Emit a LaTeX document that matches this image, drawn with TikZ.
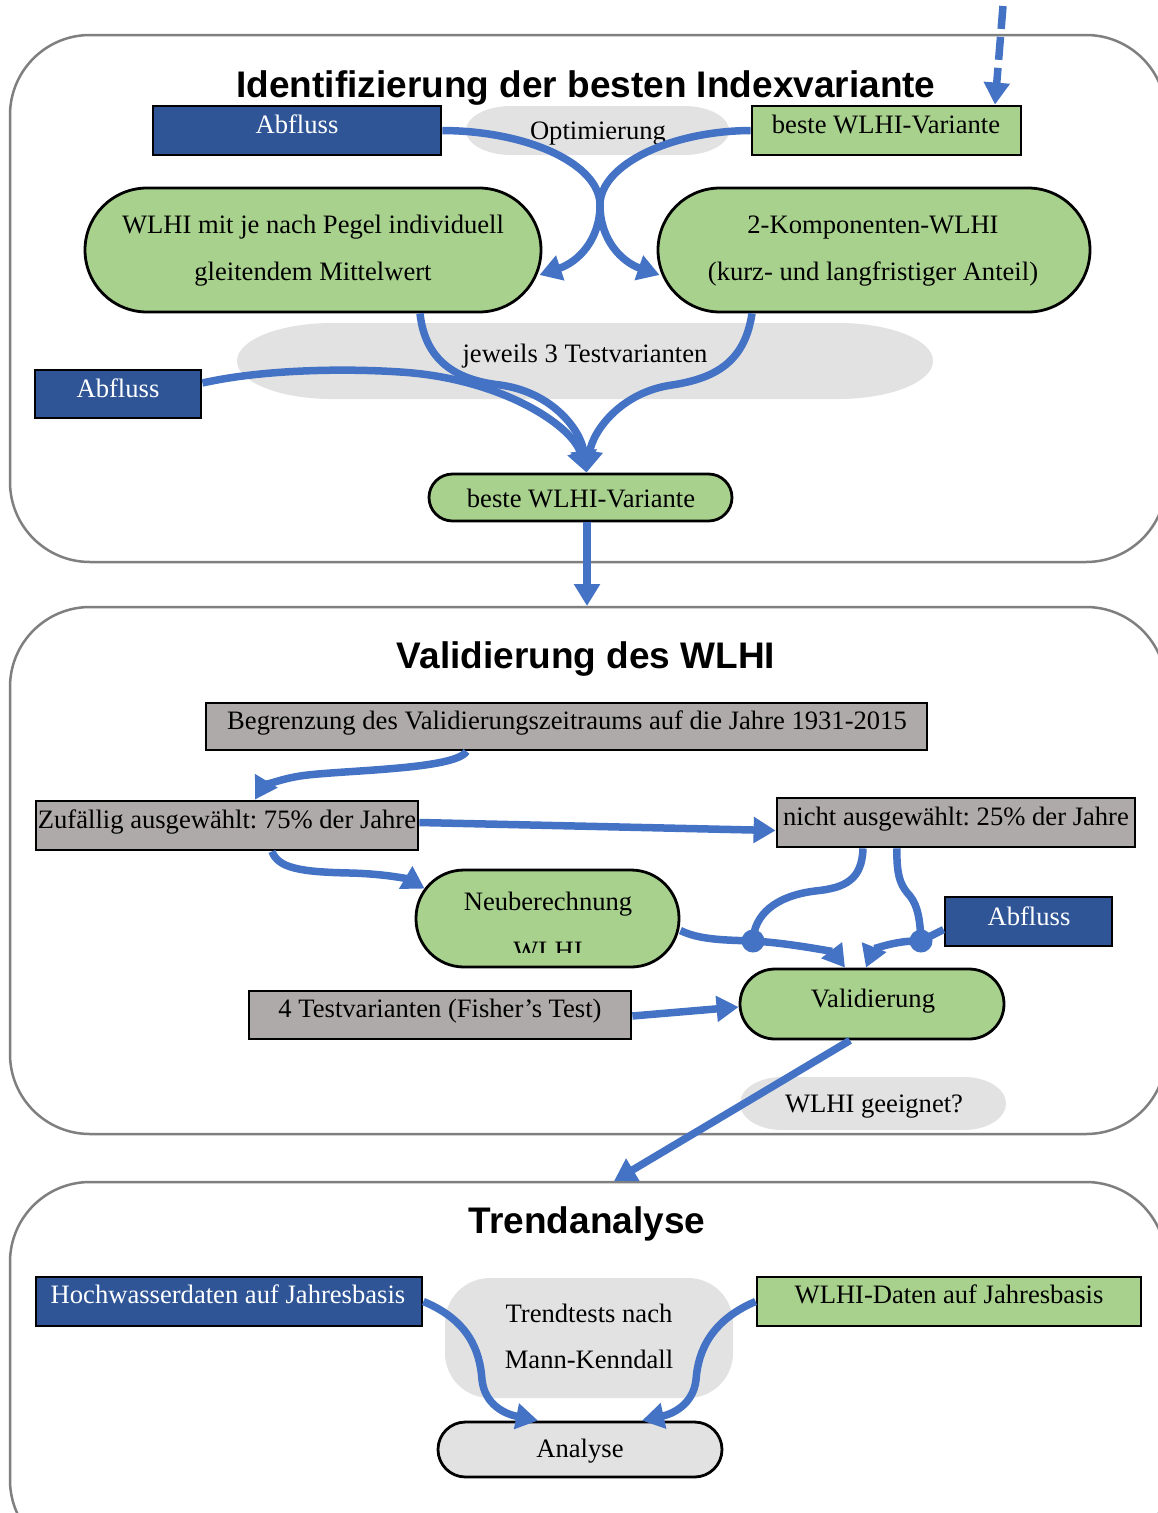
\documentclass[tikz,border=0pt]{standalone}
\usepackage{fontspec}
\setmainfont{Liberation Serif}
\newfontfamily\headfont{Liberation Sans}
\usetikzlibrary{arrows.meta}
\definecolor{dblue}{HTML}{2F5597}
\definecolor{lgreen}{HTML}{A9D18E}
\definecolor{mgray}{HTML}{AEAAAA}
\definecolor{sgray}{HTML}{E2E2E2}
\definecolor{ablue}{HTML}{4472C4}
\definecolor{fgray}{HTML}{7F7F7F}
\frenchspacing
\begin{document}
\begin{tikzpicture}[x=1pt,y=-1pt,
  frame/.style={draw=fgray,line width=2.5pt,rounded corners=80pt},
  box/.style={draw=black,line width=2.8pt,inner sep=0pt,rectangle},
  bluebox/.style={box,fill=dblue},
  greenbox/.style={box,fill=lgreen},
  graybox/.style={box,fill=mgray},
  txt/.style={font=\fontsize{26.6}{30}\selectfont,inner sep=0pt,anchor=base},
  wtxt/.style={txt,text=white},
  head/.style={font=\headfont\bfseries\fontsize{37}{40}\selectfont,inner sep=0pt,anchor=base},
  flow/.style={draw=ablue,line width=7.5pt,-{Triangle[length=22pt,width=25pt]}},
  line/.style={draw=ablue,line width=7.5pt},
  jdot/.style={circle,fill=ablue,inner sep=0pt,minimum size=23pt}
]
\useasboundingbox (0,0) rectangle (1158,1513);
\fill[white] (0,0) rectangle (1158,1513);

% ---------- frames ----------
\draw[frame] (10,35) rectangle (1166,562);
\draw[frame] (10,607) rectangle (1166,1134);
\draw[frame] (10,1182) rectangle (1166,1560);

% ---------- frame 1 ----------
\node[head] (t1) at (586,97) {Identifizierung der besten Indexvariante};

\fill[sgray] (511,106) -- (684,106) arc[start angle=-90,end angle=90,x radius=45,y radius=24.5]
  -- (511,155) arc[start angle=90,end angle=270,x radius=45,y radius=24.5] -- cycle;
\node[txt] (optT) at (598,139) {Optimierung};

\node[bluebox,minimum width=288pt,minimum height=49pt] (abfA) at (297,130.5) {};
\node[wtxt] (abfAT) at (297,133) {Abfluss};
\node[greenbox,minimum width=269pt,minimum height=49pt] (bestA) at (886.5,130.5) {};
\node[txt] (bestAT) at (886,133) {beste WLHI-Variante};

\node[greenbox,rounded corners=62pt,minimum width=456pt,minimum height=124pt] (wlhiA) at (313,250) {};
\node[txt] (wlhiAT1) at (313,233) {WLHI mit je nach Pegel individuell};
\node[txt] (wlhiAT2) at (313,280) {gleitendem Mittelwert};
\node[greenbox,rounded corners=62pt,minimum width=432pt,minimum height=124pt] (kompA) at (874,250) {};
\node[txt] (kompAT1) at (873,233) {2-Komponenten-WLHI};
\node[txt] (kompAT2) at (873,280) {(kurz- und langfristiger Anteil)};

\fill[sgray] (332,323) -- (838,323) arc[start angle=-90,end angle=90,x radius=95,y radius=38]
  -- (332,399) arc[start angle=90,end angle=270,x radius=95,y radius=38] -- cycle;
\node[txt] (jewT) at (585,362) {jeweils 3 Testvarianten};

\node[bluebox,minimum width=166pt,minimum height=48pt] (abfB) at (118,394) {};
\node[wtxt] (abfBT) at (118,397) {Abfluss};

\node[greenbox,rounded corners=23.5pt,minimum width=303pt,minimum height=47pt] (bestB) at (580.5,497.5) {};
\node[txt] (bestBT) at (581,507) {beste WLHI-Variante};

\coordinate (topin) at (1003,6);
\draw[flow,dash pattern=on 23pt off 8pt] (topin) -- ([xshift=108.5pt]bestA.north);
\draw[flow] (abfA.east) .. controls (530,131) and (600,165) .. (600,205)
  .. controls (600,240) and (578,262) .. ([xshift=-3pt,yshift=-25pt]wlhiA.east);
\draw[flow] (bestA.west) .. controls (670,131) and (600,165) .. (600,205)
  .. controls (600,240) and (622,262) .. ([xshift=3pt,yshift=-25pt]kompA.west);

\draw[flow] ([xshift=107pt]wlhiA.south) .. controls (425,360) and (455,380) .. (500,385)
  .. controls (552,392) and (581,430) .. ([xshift=6pt]bestB.north);
\draw[flow] ([xshift=-122pt]kompA.south) .. controls (745,360) and (718,378) .. (672,385)
  .. controls (622,392) and (593,430) .. ([xshift=6pt]bestB.north);
\draw[flow] ([yshift=11pt]abfB.east) .. controls (260,370) and (340,368) .. (400,372)
  .. controls (500,378) and (572,425) .. ([xshift=6pt]bestB.north);

\coordinate (f2top) at (587,606);
\draw[flow] ([xshift=6.5pt]bestB.south) -- (f2top);

% ---------- frame 2 ----------
\node[head] (t2) at (586,668) {Validierung des WLHI};

\node[graybox,minimum width=721pt,minimum height=47pt] (begr) at (566.5,726.5) {};
\node[txt] (begrT) at (567,729) {Begrenzung des Validierungszeitraums auf die Jahre 1931-2015};

\node[graybox,minimum width=382pt,minimum height=49pt] (zuf) at (227,825.5) {};
\node[txt] (zufT) at (227,828) {Zufällig ausgewählt: 75\% der Jahre};
\node[graybox,minimum width=358pt,minimum height=49pt] (nicht) at (956,822.5) {};
\node[txt] (nichtT) at (956,825) {nicht ausgewählt: 25\% der Jahre};

\node[greenbox,rounded corners=48pt,minimum width=263pt,minimum height=97pt] (neu) at (547.5,918.5) {};
\node[txt] (neuT) at (548,910) {Neuberechnung};
\begin{scope}
  \clip (420,880) rectangle (680,952.5);
  \node[txt] (neuT2) at (548,959) {WLHI};
\end{scope}

\node[bluebox,minimum width=167pt,minimum height=49pt] (abfC) at (1028.5,921.5) {};
\node[wtxt] (abfCT) at (1029,925) {Abfluss};

\node[greenbox,rounded corners=35pt,minimum width=264pt,minimum height=70pt] (val) at (872,1004) {};
\node[txt] (valT) at (873,1007) {Validierung};

\node[graybox,minimum width=382pt,minimum height=48pt] (test) at (440,1015) {};
\node[txt] (testT) at (440,1017) {4 Testvarianten (Fisher’s Test)};

\fill[sgray] (782,1077) -- (964,1077) arc[start angle=-90,end angle=90,x radius=42,y radius=26.5]
  -- (782,1130) arc[start angle=90,end angle=270,x radius=42,y radius=26.5] -- cycle;
\node[txt] (geT) at (874,1112) {WLHI geeignet?};

\node[jdot] (d1) at (753,941) {};
\node[jdot] (d2) at (921,941) {};

\draw[flow] ([xshift=-100pt]begr.south) .. controls (455,770) and (340,770) .. (300,776)
  .. controls (275,780) and (262,788) .. ([xshift=28pt]zuf.north);
\draw[flow] ([yshift=3pt]zuf.east) -- ([yshift=-8pt]nicht.west);
\draw[flow] ([xshift=45pt]zuf.south) .. controls (278,868) and (300,872) .. (350,873)
  .. controls (390,874) and (410,880) .. ([xshift=10pt,yshift=-20pt]neu.north west);
\draw[flow] ([yshift=-12pt]neu.east) .. controls (700,940) and (725,940) .. (d1.center)
  .. controls (790,943) and (833,952) .. ([xshift=-27pt]val.north);
\draw[line] ([xshift=-93pt]nicht.south) .. controls (862,880) and (845,888) .. (815,891)
  .. controls (775,896) and (754,915) .. (d1.center);
\draw[line] ([xshift=-59pt]nicht.south) .. controls (896,880) and (903,888) .. (910,896)
  .. controls (918,906) and (920,920) .. (d2.center);
\draw[flow] (d2.center) .. controls (895,940) and (873,950) .. ([xshift=-6pt]val.north);
\draw[line] ([yshift=-8pt]abfC.west) -- (d2.center);
\draw[flow] ([yshift=-1pt]test.east) -- ([yshift=-3pt]val.west);

\coordinate (f3top) at (614,1181);
\draw[flow] ([xshift=-22pt]val.south) -- (f3top);

% ---------- frame 3 ----------
\node[head] (t3) at (587,1233) {Trendanalyse};

\fill[sgray,rounded corners=45pt] (445,1278) rectangle (733,1398);
\node[txt] (trT1) at (589,1322) {Trendtests nach};
\node[txt] (trT2) at (589,1368) {Mann-Kenndall};

\node[bluebox,minimum width=386pt,minimum height=49pt] (hw) at (229,1301.5) {};
\node[wtxt] (hwT) at (228,1303) {Hochwasserdaten auf Jahresbasis};
\node[greenbox,minimum width=384pt,minimum height=49pt] (wd) at (949,1301.5) {};
\node[txt] (wdT) at (949,1303) {WLHI-Daten auf Jahresbasis};

\node[box,fill=sgray,rounded corners=27.5pt,minimum width=284pt,minimum height=55pt] (ana) at (580,1449.5) {};
\node[txt] (anaT) at (580,1457) {Analyse};

\draw[flow] (hw.east) .. controls (468,1320) and (480,1350) .. (482,1380)
  .. controls (485,1405) and (505,1414) .. ([xshift=-42pt]ana.north);
\draw[flow] (wd.west) .. controls (712,1320) and (698,1350) .. (696,1380)
  .. controls (693,1405) and (672,1414) .. ([xshift=62pt]ana.north);
\end{tikzpicture}
\end{document}
